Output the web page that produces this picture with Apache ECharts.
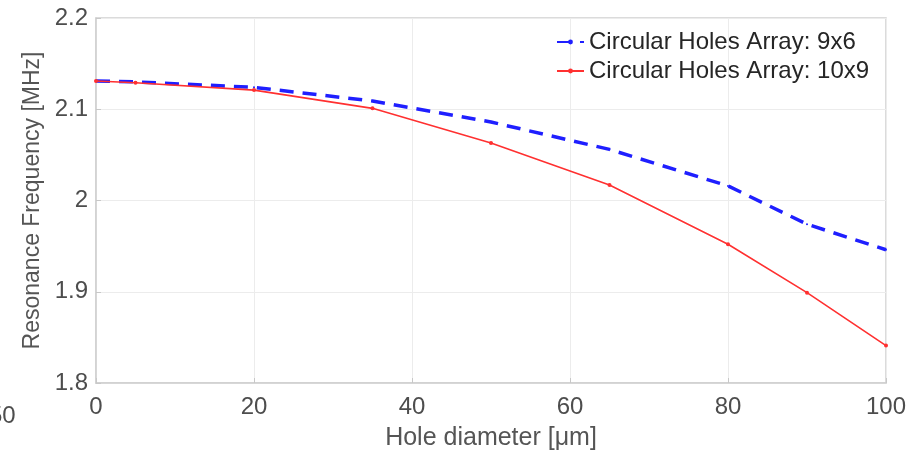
<!DOCTYPE html>
<html>
<head>
<meta charset="utf-8">
<script src="https://cdn.jsdelivr.net/npm/echarts@6/dist/echarts.min.js"></script>
<style>
  html, body { margin: 0; padding: 0; background: #fff; }
  #chart { width: 914px; height: 457px; }
</style>
</head>
<body>
<div id="chart"></div>
<script>
// hole diameter (um)
const diameters = [0, 5, 20, 35, 50, 65, 80, 90, 100]
// resonance frequency (MHz)
const freq9x6 = [2.131, 2.130, 2.124, 2.109, 2.086, 2.056, 2.016, 1.974, 1.946]
const freq10x9 = [2.131, 2.129, 2.121, 2.101, 2.063, 2.017, 1.952, 1.899, 1.841]
const yTicks = { min: 1.8, max: 2.2, interval: 0.1 }
const xTicks = { min: 0, max: 100, interval: 20 }

const font = 'Liberation Sans, Arial, sans-serif'
const chart = echarts.init(document.getElementById('chart'))

const pairs = ys => diameters.map((x, i) => [x, ys[i]])

chart.setOption({
  animation: false,
  grid: {
    left: 96, right: 28, top: 18, bottom: 74,
    show: true, borderColor: '#d0d0d0', borderWidth: 1.5
  },
  legend: {
    top: 25, left: 551, orient: 'vertical', itemGap: 5,
    itemWidth: 27, itemHeight: 6,
    textStyle: { fontFamily: font, fontSize: 24, color: '#262626' },
    data: ['Circular Holes Array: 9x6', 'Circular Holes Array: 10x9']
  },
  xAxis: {
    type: 'value', ...xTicks,
    name: 'Hole diameter [\u03bcm]', nameLocation: 'middle', nameGap: 43,
    nameTextStyle: { fontFamily: font, fontSize: 25, color: '#555' },
    axisLine: { lineStyle: { color: '#d0d0d0', width: 1.5 } },
    axisTick: { inside: true, length: 5, lineStyle: { color: '#c8c8c8' } },
    axisLabel: { fontFamily: font, fontSize: 24, color: '#4d4d4d', margin: 12 },
    splitLine: { lineStyle: { color: '#ececec' } }
  },
  yAxis: {
    type: 'value', ...yTicks,
    name: 'Resonance Frequency [MHz]', nameLocation: 'middle', nameGap: 48,
    nameTextStyle: { fontFamily: font, fontSize: 23, color: '#555' },
    axisLine: { show: true, lineStyle: { color: '#d0d0d0', width: 1.5 } },
    axisTick: { show: true, inside: true, length: 5, lineStyle: { color: '#c8c8c8' } },
    axisLabel: { fontFamily: font, fontSize: 24, color: '#4d4d4d', margin: 8 },
    splitLine: { lineStyle: { color: '#ececec' } }
  },
  series: [
    {
      name: 'Circular Holes Array: 9x6',
      type: 'line',
      data: pairs(freq9x6),
      symbol: 'circle', symbolSize: 2,
      color: '#1f1fff',
      itemStyle: { color: '#1f1fff' },
      lineStyle: { width: 3.5, type: [14, 9], color: '#1f1fff' }
    },
    {
      name: 'Circular Holes Array: 10x9',
      type: 'line',
      data: pairs(freq10x9),
      symbol: 'circle', symbolSize: 4,
      color: '#ff3030',
      itemStyle: { color: '#ff3030' },
      lineStyle: { width: 1.6, color: '#ff3030' }
    }
  ],
  graphic: [
    {
      type: 'text', left: -11, top: 404,
      style: { text: '50', fontFamily: font, fontSize: 24, fill: '#4d4d4d' }
    }
  ]
})
</script>
</body>
</html>
